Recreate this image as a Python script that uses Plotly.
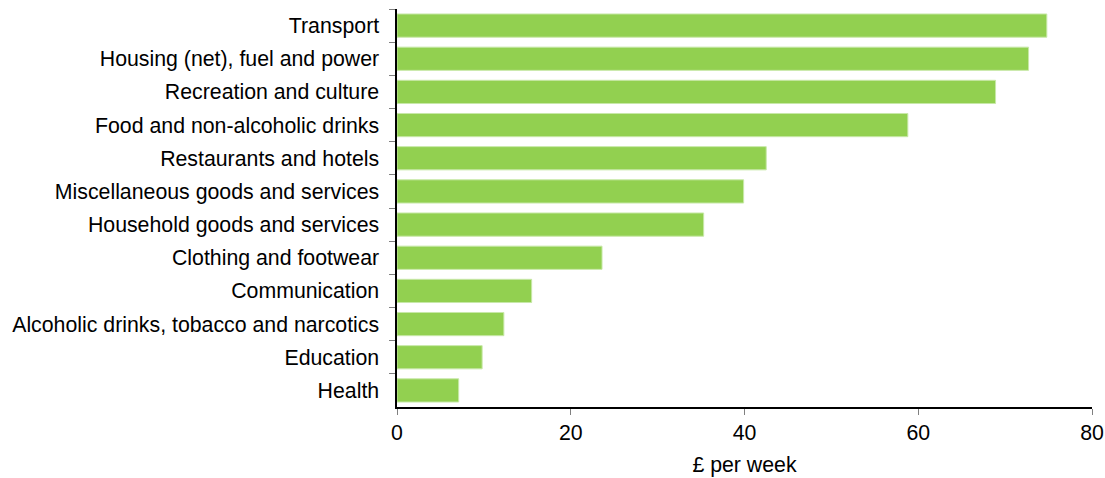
import plotly.graph_objects as go

categories = ["Transport", "Housing (net), fuel and power", "Recreation and culture",
              "Food and non-alcoholic drinks", "Restaurants and hotels",
              "Miscellaneous goods and services", "Household goods and services",
              "Clothing and footwear", "Communication",
              "Alcoholic drinks, tobacco and narcotics", "Education", "Health"]
values = [74.8, 72.7, 68.9, 58.8, 42.5, 39.9, 35.3, 23.6, 15.5, 12.3, 9.8, 7.1]
x_ticks = [0, 20, 40, 60, 80]

fig = go.Figure(go.Bar(
    y=categories, x=values, orientation="h",
    marker=dict(color="#92D050", line=dict(color="#C8E8A8", width=1)),
    hoverinfo="x+y",
))

font = dict(family="Liberation Sans, Arial, sans-serif", size=21.3, color="#000000")
fig.update_layout(
    width=1105, height=478,
    margin=dict(l=397, r=13, t=9, b=71),
    paper_bgcolor="white", plot_bgcolor="white",
    bargap=0.3, font=font, showlegend=False,
)
fig.update_xaxes(
    range=[0, 80], tickvals=x_ticks, showgrid=False, zeroline=False,
    showline=True, linecolor="black", linewidth=1.5,
    ticks="outside", ticklen=6, tickcolor="#808080", tickwidth=1,
    title=dict(text="£ per week", font=font, standoff=13),
    automargin=False,
)
fig.update_yaxes(
    autorange="reversed", showgrid=False, zeroline=False,
    showline=True, linecolor="black", linewidth=1.5,
    ticks="outside", ticklen=6, tickcolor="#808080", tickwidth=1,
    tickson="boundaries", ticksuffix="  ",
    automargin=False,
)
fig.write_html("out.html", config={"displayModeBar": False},
               post_script="document.body.style.margin='0';document.body.style.overflow='hidden';")
